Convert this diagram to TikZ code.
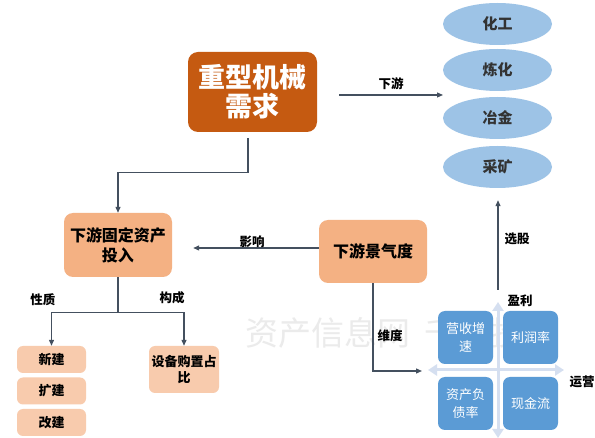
\documentclass[tikz,border=0pt]{standalone}
\usepackage{fontspec}
\setmainfont{Noto Sans CJK SC}
\usetikzlibrary{shapes.geometric,arrows.meta,calc}
\definecolor{cMain}{HTML}{C55A11}
\definecolor{cMid}{HTML}{F4B183}
\definecolor{cLight}{HTML}{F8CBAD}
\definecolor{cEll}{HTML}{9DC3E6}
\definecolor{cQuad}{HTML}{5B9BD5}
\definecolor{cAxis}{HTML}{D5DFF0}
\definecolor{cLine}{HTML}{44505F}
\definecolor{cWm}{HTML}{EBEBEB}
\begin{document}
\begin{tikzpicture}[x=1pt,y=-1pt,
  conn/.style={draw=cLine,line width=1.2pt,-{Triangle[length=6pt,width=5pt]}},
  plain/.style={draw=cLine,line width=1.2pt},
  mainbox/.style={rectangle,rounded corners=10pt,fill=cMain,text=white,align=center,font=\fontsize{27}{29}\selectfont\bfseries,inner sep=0pt},
  midbox/.style={rectangle,rounded corners=9pt,fill=cMid,align=center,inner sep=0pt},
  smallbox/.style={rectangle,rounded corners=6pt,fill=cLight,align=center,inner sep=0pt,font=\fontsize{13}{16}\selectfont\bfseries},
  ell/.style={ellipse,fill=cEll,minimum width=109pt,minimum height=42pt,inner sep=0pt,text=black!80,font=\fontsize{15}{17}\selectfont\bfseries},
  quad/.style={rectangle,rounded corners=7pt,fill=cQuad,text=white,align=center,minimum width=55pt,minimum height=53pt,inner sep=0pt,font=\fontsize{13}{18}\selectfont},
  lab/.style={font=\fontsize{12.5}{14}\selectfont\bfseries,inner sep=0pt},
  axis/.style={draw=cAxis,line width=3pt,{Triangle[length=9pt,width=11pt]}-{Triangle[length=9pt,width=11pt]}}
]
\useasboundingbox (0,0) rectangle (595,438);
\fill[white] (0,0) rectangle (595,438);

% watermark
\node[text=cWm,font=\fontsize{33}{36}\selectfont,anchor=west,inner sep=0pt] (wm) at (245,333) {资产信息网\hspace{14pt}千际投行};

% main
\node[mainbox,minimum width=129pt,minimum height=80pt] (main) at (252.5,92) {重型机械\\需求};

% ellipses
\node[ell] (e1) at (497.5,24) {化工};
\node[ell] (e2) at (497.5,70) {炼化};
\node[ell] (e3) at (497.5,118) {冶金};
\node[ell] (e4) at (497.5,167) {采矿};

\coordinate (dsStart) at (339,95);
\coordinate (dsEnd) at (443,95);
\draw[conn] (dsStart) -- node[lab,above=5pt] (lds) {下游} (dsEnd);

% fixed asset box
\node[midbox,minimum width=108pt,minimum height=64pt,font=\fontsize{16}{20}\selectfont\bfseries] (fixed) at (118,245) {下游固定资产\\投入};
\draw[conn] ($(main.south)+(-4.5,6)$) -- ++(0,34) -| (fixed.north);

% prosperity box
\node[midbox,minimum width=108pt,minimum height=63pt,font=\fontsize{16}{20}\selectfont\bfseries] (jq) at (373,251.5) {下游景气度};
\draw[conn] ($(jq.west)+(0,-3.5)$) -- ($(fixed.east)+(21,3)$);
\node[lab] (lyx) at (252,242) {影响};

% small boxes
\node[smallbox,minimum width=69pt,minimum height=27pt] (xj) at (51.5,359.5) {新建};
\node[smallbox,minimum width=69pt,minimum height=27pt] (kj) at (51.5,391) {扩建};
\node[smallbox,minimum width=69pt,minimum height=27pt] (gj) at (51.5,422.5) {改建};
\node[smallbox,minimum width=70pt,minimum height=47pt] (sb) at (184,369.5) {设备购置占\\比};

\draw[plain] (fixed.south) -- ++(0,35) coordinate (split);
\draw[conn] (split) -| (xj.north);
\draw[conn] (split) -| (sb.north);
\node[lab] (lxz) at (43,300) {性质};
\node[lab] (lgc) at (172,298) {构成};

% quadrant
\coordinate (axT) at (498,302);
\coordinate (axB) at (498,438);
\coordinate (axL) at (428,370);
\coordinate (axR) at (564,370);
\draw[axis] (axT) -- (axB);
\draw[axis] (axL) -- (axR);
\node[quad] (q1) at (465.5,337.5) {营收增\\速};
\node[quad] (q2) at (530.5,337.5) {利润率};
\node[quad] (q3) at (465.5,403.5) {资产负\\债率};
\node[quad] (q4) at (530.5,403.5) {现金流};
\node[lab] (lyl) at (520,301) {盈利};
\node[lab] (lyy) at (582,382) {运营};

\coordinate (wdEnd) at (422,371);
\draw[conn] (jq.south) |- (wdEnd);
\node[lab] (lwd) at (390,336) {维度};

\coordinate (xgStart) at (498,290);
\draw[conn] (xgStart) -- ($(e4.south)+(0.5,12)$);
\node[lab] (lxg) at (517,239) {选股};
\end{tikzpicture}
\end{document}
